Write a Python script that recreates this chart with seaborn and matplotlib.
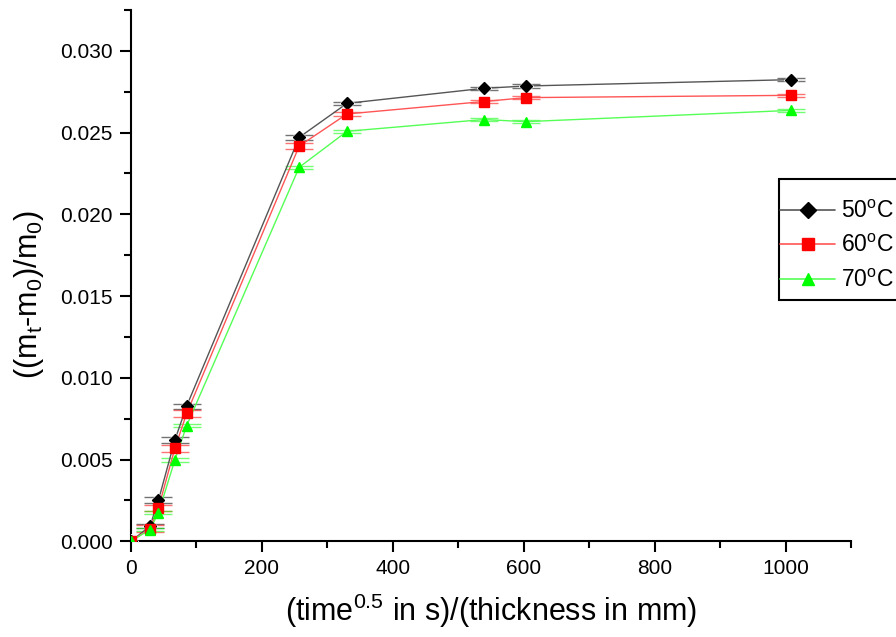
import numpy as np
import pandas as pd
import matplotlib
matplotlib.use("Agg")
import matplotlib.pyplot as plt
import seaborn as sns
from matplotlib.ticker import MultipleLocator
from matplotlib.lines import Line2D
from matplotlib.patches import Rectangle

x_vals = [0, 29, 42, 67, 85, 257, 330, 539, 603, 1009]
y_50 = [0, 0.00093, 0.00252, 0.00619, 0.00827, 0.02471, 0.02679, 0.02771, 0.02785, 0.02824]
y_60 = [0, 0.00078, 0.00205, 0.00568, 0.00782, 0.02418, 0.02614, 0.02690, 0.02714, 0.02728]
y_70 = [0, 0.00072, 0.00175, 0.00497, 0.00707, 0.02288, 0.02508, 0.02580, 0.02567, 0.02636]
e_50 = [0, 0.0001, 0.0002, 0.0002, 0.00015, 0.00015, 0.0001, 0.0001, 0.0001, 0.0001]
e_60 = [0, 0.0002, 0.0002, 0.0002, 0.0002, 0.0002, 0.0001, 0.0001, 0.0001, 0.0001]
e_70 = [0, 0.0001, 0.0001, 0.0001, 0.0001, 0.0001, 0.0001, 0.0001, 0.0001, 0.0001]
labels = ["50$^{\\rm o}$C", "60$^{\\rm o}$C", "70$^{\\rm o}$C"]

sns.set_style("white")
plt.rcParams['font.family'] = ['Liberation Sans', 'DejaVu Sans']
plt.rcParams['mathtext.fontset'] = 'custom'
plt.rcParams['mathtext.rm'] = 'Liberation Sans'
plt.rcParams['mathtext.it'] = 'Liberation Sans'
for k in ['text.color', 'axes.labelcolor', 'xtick.color', 'ytick.color']:
    plt.rcParams[k] = 'black'

rows = []
for lab, ys, es in zip(labels, [y_50, y_60, y_70], [e_50, e_60, e_70]):
    for xv, yv, ev in zip(x_vals, ys, es):
        rows.append({"x": xv, "y": yv, "err": ev, "series": lab})
df = pd.DataFrame(rows)

colors = {labels[0]: "#000000", labels[1]: "#ff0000", labels[2]: "#00ff00"}
markers = {labels[0]: "D", labels[1]: "s", labels[2]: "^"}
line_colors = {labels[0]: "#555555", labels[1]: "#ff5555", labels[2]: "#55ff55"}

fig = plt.figure(figsize=(8.96, 6.37), dpi=100)
ax = fig.add_axes([131/896, 1 - 541.3/637, (851 - 131)/896, (541.3 - 10)/637])

for lab in labels:
    sub = df[df.series == lab]
    ax.errorbar(sub.x, sub.y, yerr=sub.err, fmt="none", ecolor=colors[lab],
                alpha=0.55, capsize=10, capthick=1.0, elinewidth=1.0, zorder=2)

sns.lineplot(data=df, x="x", y="y", hue="series", style="series",
             palette=line_colors, markers=markers, dashes=False,
             linewidth=1.0, markersize=7, ax=ax, legend=False, zorder=3)
for lab in labels:
    sub = df[df.series == lab]
    ax.plot(sub.x, sub.y, linestyle="none", marker=markers[lab],
            color=colors[lab], markersize=7 if lab != labels[0] else 6.5, zorder=4)

ax.set_xlim(0, 1100)
ax.set_ylim(0, 0.0325)
ax.xaxis.set_major_locator(MultipleLocator(200))
ax.xaxis.set_minor_locator(MultipleLocator(100))
ax.yaxis.set_major_locator(MultipleLocator(0.005))
ax.yaxis.set_minor_locator(MultipleLocator(0.0025))
ax.yaxis.set_major_formatter(matplotlib.ticker.FormatStrFormatter("%.3f"))
ax.tick_params(which="major", direction="out", length=8, width=1.5, labelsize=15,
               bottom=True, left=True, colors="black", pad=5)
ax.tick_params(which="minor", direction="out", length=5, width=1.5, bottom=True, left=True)
for s in ["top", "right"]:
    ax.spines[s].set_visible(False)
for s in ["left", "bottom"]:
    ax.spines[s].set_linewidth(1.5)
    ax.spines[s].set_color("black")

ax.set_xlabel("(time$^{0.5}$ in s)/(thickness in mm)", fontsize=22)
ax.set_ylabel("((m$_t$-m$_0$)/m$_0$)", fontsize=22)
ax.xaxis.set_label_coords(0.5, (541.3 - 592) / 531.3)
ax.yaxis.set_label_coords((46 - 131) / 720, (541.3 - 295) / 531.3)

# legend frame (extends past the right edge as in the reference)
fig.patches.append(Rectangle((779/896, 1 - 300/637), 130/896, 121/637,
                             transform=fig.transFigure, fill=True, facecolor="white",
                             edgecolor="black", linewidth=1.5, zorder=5))
handles = [Line2D([0], [0], color=line_colors[l], marker=markers[l], markerfacecolor=colors[l],
                  markeredgecolor=colors[l], markersize=8, linewidth=1.2) for l in labels]
leg = fig.legend(handles, labels, loc="upper left", bbox_to_anchor=(780/896, 1 - 200/637),
                 fontsize=16.5, frameon=False, handlelength=2.4, handletextpad=0.25,
                 borderpad=0, labelspacing=0.5, borderaxespad=0)
leg.set_zorder(6)

fig.savefig("out.png", dpi=100)
